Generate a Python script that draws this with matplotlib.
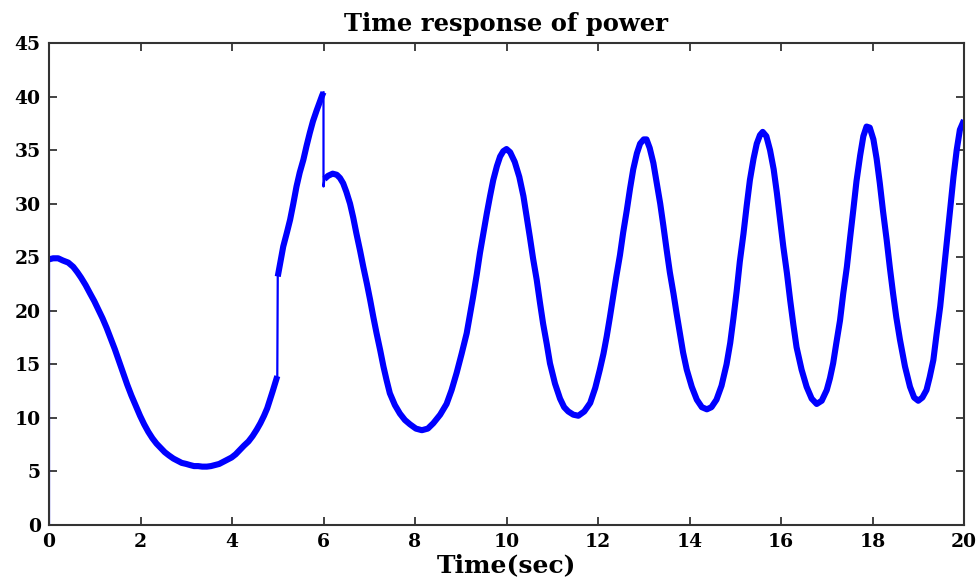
import matplotlib.pyplot as plt
import numpy as np

plt.rcParams['font.family'] = ['DejaVu Serif']
plt.rcParams['font.weight'] = 'bold'

# power curve before the step at t = 5 s
t_a = [0.0, 0.09, 0.20, 0.30, 0.42, 0.53, 0.62, 0.70, 0.80, 0.90, 0.99, 1.08,
       1.17, 1.26, 1.35, 1.44, 1.53, 1.62, 1.71, 1.80, 1.90, 1.99, 2.08, 2.17,
       2.26, 2.35, 2.44, 2.53, 2.62, 2.72, 2.81, 2.90, 3.00, 3.08, 3.17, 3.26,
       3.35, 3.45, 3.54, 3.63, 3.72, 3.81, 3.90, 3.99, 4.08, 4.17, 4.26, 4.36,
       4.45, 4.54, 4.62, 4.70, 4.77, 4.83, 4.89, 4.94, 4.99]
p_a = [24.8, 24.9, 24.9, 24.7, 24.5, 24.1, 23.6, 23.1, 22.4, 21.6, 20.9, 20.1,
       19.3, 18.4, 17.4, 16.4, 15.3, 14.2, 13.1, 12.1, 11.1, 10.2, 9.4, 8.7,
       8.1, 7.6, 7.2, 6.8, 6.5, 6.2, 6.0, 5.8, 5.7, 5.6, 5.5, 5.5,
       5.45, 5.45, 5.5, 5.6, 5.7, 5.9, 6.1, 6.3, 6.6, 7.0, 7.4, 7.8,
       8.3, 8.9, 9.5, 10.2, 10.9, 11.7, 12.5, 13.2, 13.9]

# ramp between the step at 5 s and the drop at 6 s
t_b = [5.0, 5.06, 5.12, 5.20, 5.27, 5.34, 5.41, 5.48, 5.56, 5.63, 5.70, 5.77,
       5.85, 5.91, 5.97, 6.0]
p_b = [23.2, 24.6, 26.0, 27.3, 28.5, 30.0, 31.6, 32.9, 34.1, 35.4, 36.6, 37.7,
       38.7, 39.4, 40.1, 40.4]

# oscillating response after 6 s
t_c = [6.02, 6.10, 6.20, 6.29, 6.36, 6.43, 6.50, 6.58, 6.65, 6.72, 6.80, 6.87,
       6.95, 7.02, 7.09, 7.16, 7.24, 7.31, 7.38, 7.45, 7.56, 7.67, 7.78, 7.89,
       8.02, 8.15, 8.28, 8.40, 8.55, 8.69, 8.80, 8.91, 9.02, 9.13, 9.20, 9.27,
       9.35, 9.42, 9.50, 9.57, 9.64, 9.71, 9.79, 9.86, 9.93, 10.0, 10.08, 10.18,
       10.28, 10.37, 10.44, 10.51, 10.58, 10.66, 10.73, 10.80, 10.88, 10.95,
       11.06, 11.17, 11.26, 11.35, 11.46, 11.57, 11.70, 11.83, 11.94, 12.04,
       12.12, 12.19, 12.26, 12.33, 12.40, 12.48, 12.55, 12.63, 12.70, 12.77,
       12.85, 12.92, 13.0, 13.06, 13.13, 13.21, 13.28, 13.36, 13.43, 13.50,
       13.57, 13.65, 13.72, 13.79, 13.86, 13.94, 14.05, 14.16, 14.27, 14.38,
       14.48, 14.59, 14.70, 14.81, 14.89, 14.96, 15.03, 15.10, 15.18, 15.25,
       15.32, 15.40, 15.47, 15.54, 15.60, 15.68, 15.76, 15.84, 15.91, 15.98,
       16.05, 16.13, 16.20, 16.27, 16.34, 16.45, 16.56, 16.67, 16.78, 16.89,
       17.0, 17.07, 17.14, 17.21, 17.29, 17.36, 17.44, 17.51, 17.58, 17.65,
       17.73, 17.80, 17.87, 17.94, 18.02, 18.09, 18.16, 18.23, 18.31, 18.38,
       18.45, 18.52, 18.60, 18.71, 18.82, 18.91, 19.0, 19.09, 19.18, 19.25,
       19.33, 19.40, 19.48, 19.55, 19.62, 19.70, 19.77, 19.84, 19.91, 20.0]
p_c = [32.3, 32.6, 32.8, 32.7, 32.4, 31.9, 31.1, 30.0, 28.7, 27.2, 25.6, 24.1,
       22.5, 21.0, 19.4, 17.9, 16.3, 14.8, 13.5, 12.3, 11.2, 10.4, 9.8, 9.4,
       9.0, 8.85, 9.0, 9.5, 10.3, 11.3, 12.6, 14.2, 16.0, 17.9, 19.6, 21.3,
       23.4, 25.4, 27.4, 29.1, 30.7, 32.2, 33.5, 34.4, 34.9, 35.1, 34.8, 33.9,
       32.5, 30.7, 28.8, 26.9, 24.9, 22.9, 20.8, 18.8, 16.9, 15.1,
       13.2, 11.8, 11.0, 10.6, 10.3, 10.2, 10.6, 11.4, 12.8, 14.5,
       16.0, 17.6, 19.4, 21.3, 23.2, 25.2, 27.3, 29.4, 31.4, 33.2,
       34.7, 35.6, 36.0, 36.0, 35.2, 33.8, 32.0, 30.0, 27.9, 25.7,
       23.6, 21.6, 19.7, 17.9, 16.1, 14.5, 12.9, 11.7, 11.0, 10.8,
       11.0, 11.7, 13.0, 15.0, 17.0, 19.3, 21.8, 24.6, 27.2, 29.8,
       32.2, 34.2, 35.6, 36.4, 36.7, 36.3, 35.0, 33.2, 31.0, 28.5,
       26.0, 23.5, 21.0, 18.7, 16.6, 14.5, 12.9, 11.8, 11.3, 11.6,
       12.6, 13.7, 15.1, 17.0, 19.1, 21.6, 24.1, 26.8, 29.4, 32.1,
       34.5, 36.3, 37.2, 37.1, 36.0, 34.2, 31.9, 29.3, 26.6, 24.0,
       21.6, 19.4, 17.3, 14.8, 12.9, 11.9, 11.6, 11.9, 12.6, 13.8,
       15.4, 17.8, 20.4, 23.3, 26.3, 29.5, 32.5, 35.0, 36.9, 37.8]

x_ticks = np.arange(0, 21, 2)
y_ticks = np.arange(0, 46, 5)

fig = plt.figure(figsize=(9.79, 5.82), dpi=100)
ax = fig.add_axes([49 / 979, 1 - 525 / 582, 915 / 979, 482 / 582])

blue = '#0000ff'
# thin vertical jumps
ax.plot([t_a[0], t_a[0]], [0, p_a[0]], lw=1.6, color=blue)
ax.plot([t_a[-1], t_b[0]], [p_a[-1], p_b[0]], lw=1.6, color=blue)
ax.plot([t_b[-1], t_b[-1], t_c[0]], [p_b[-1], 31.6, p_c[0]], lw=1.6, color=blue)
# ripple band of the signal
for t, p in ((t_a, p_a), (t_b, p_b), (t_c, p_c)):
    ax.plot(t, p, lw=4.4, color=blue, solid_capstyle='butt',
            solid_joinstyle='round')

ax.set_xlim(0, 20)
ax.set_ylim(0, 45)
ax.set_xticks(x_ticks)
ax.set_yticks(y_ticks)
ax.tick_params(direction='in', top=True, right=True, length=6, width=1.2,
               labelsize=13.5, pad=6, colors='#222222', labelcolor='black')
for s in ax.spines.values():
    s.set_linewidth(1.5)
    s.set_color('#333333')

ax.set_title('Time response of power', fontsize=17.5, fontweight='bold', pad=9)
ax.set_xlabel('Time(sec)', fontsize=18, fontweight='bold', labelpad=1)

fig.savefig('out.png', dpi=100)
